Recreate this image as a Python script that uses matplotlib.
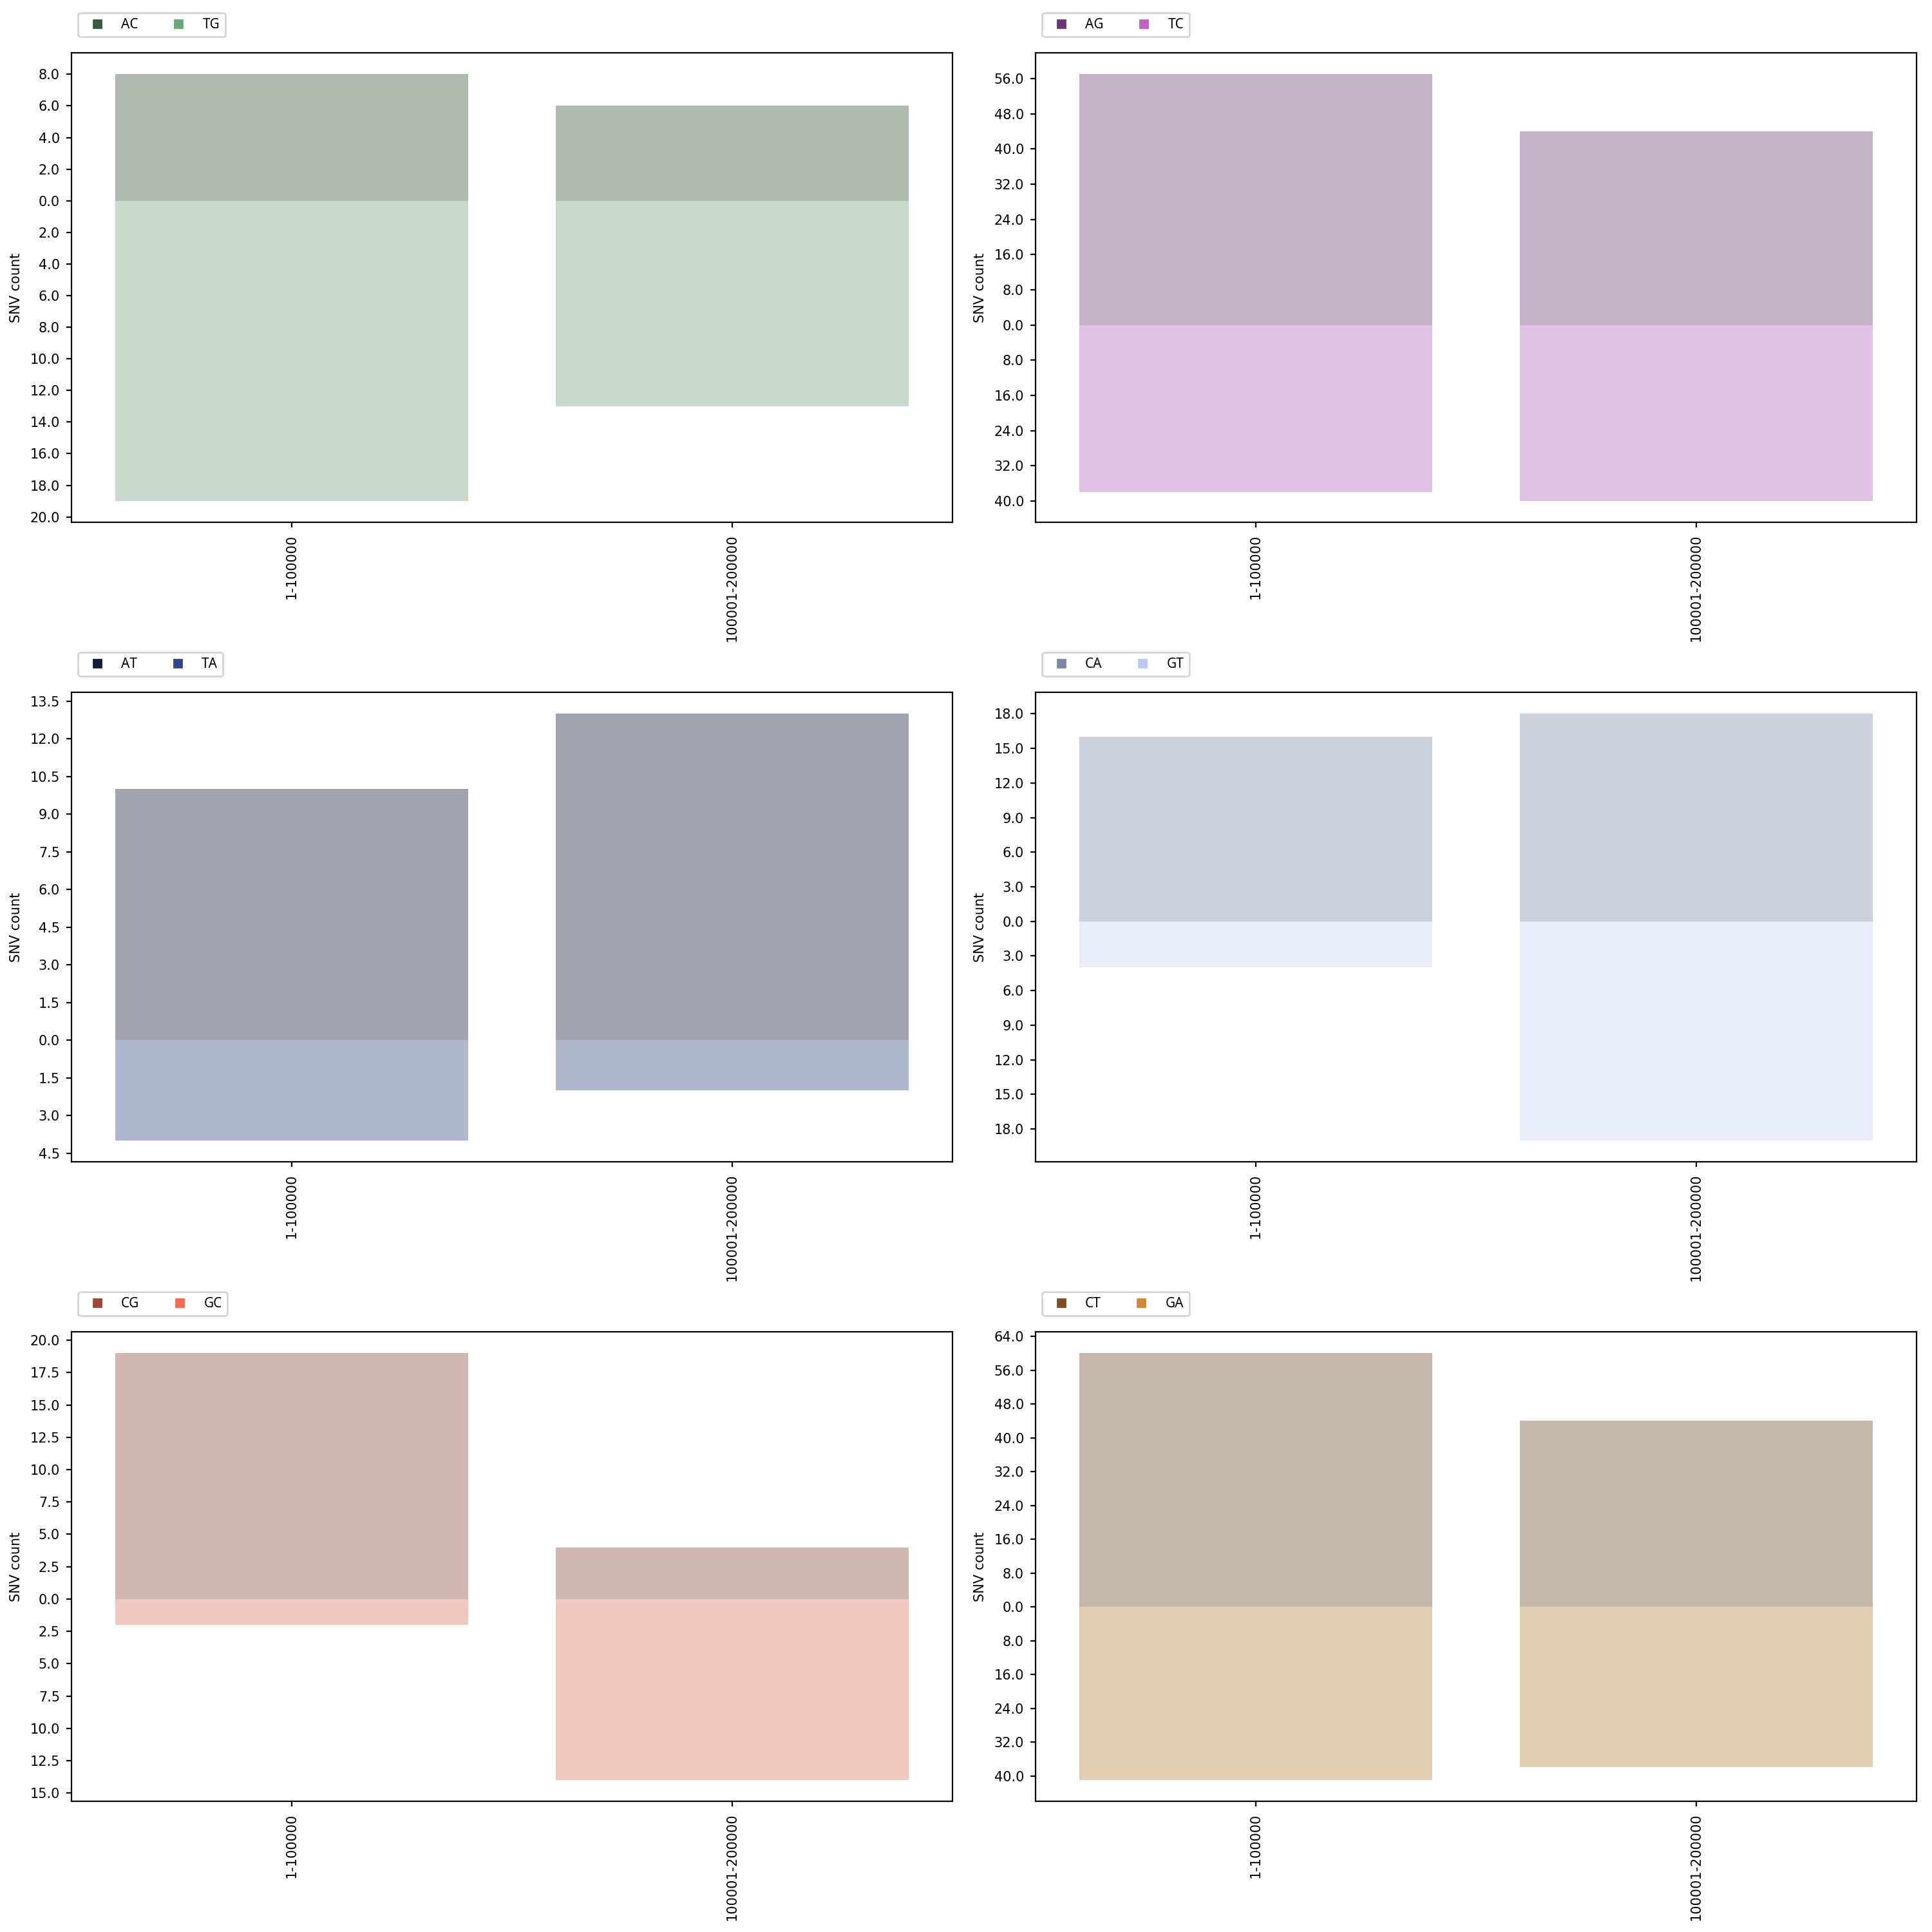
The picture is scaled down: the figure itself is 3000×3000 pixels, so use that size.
import matplotlib
matplotlib.use('Agg')
from matplotlib import pyplot as plt
from matplotlib.lines import Line2D
from matplotlib.ticker import MultipleLocator, FuncFormatter
import numpy as np

# bins along the sequence
bins = ['1-100000', '100001-200000']

# substitution pairs: (upper, lower)
pairs = [('AC', 'TG'), ('AG', 'TC'), ('AT', 'TA'),
         ('CA', 'GT'), ('CG', 'GC'), ('CT', 'GA')]

# SNV counts per bin
ac = [8, 6]
tg = [19, 13]
ag = [57, 44]
tc = [38, 40]
at = [10, 13]
ta = [4, 2]
ca = [16, 18]
gt = [4, 19]
cg = [19, 4]
gc = [2, 14]
ct = [60, 44]
ga = [41, 38]

upper_counts = [ac, ag, at, ca, cg, ct]
lower_counts = [tg, tc, ta, gt, gc, ga]

# legend marker colours
upper_colors = ['#3a5a42', '#6c3579', '#141c3c', '#7c88a8', '#9c4a38', '#7c5024']
lower_colors = ['#6aa878', '#c060c8', '#2e468c', '#b8c8f8', '#ee6c50', '#d08a34']

# bar fills (faded versions)
upper_fill = ['#b0b9b0', '#c3b1c5', '#a1a4ae', '#cdd1dc', '#d1b6b0', '#c4b7a7']
lower_fill = ['#c7d9cb', '#e1c2e5', '#b0b6cc', '#e8ecf9', '#efc8c0', '#e2cdb2']

tick_steps = [2, 8, 1.5, 3, 2.5, 8]


def main():
    fig = plt.figure(figsize=(15, 15), dpi=200)

    lefts = [0.037, 0.536]
    bottoms = [0.7296, 0.3986, 0.0676]
    w, h = 0.456, 0.243

    x = np.arange(len(bins))
    for i, (up_name, low_name) in enumerate(pairs):
        ax = fig.add_axes([lefts[i % 2], bottoms[i // 2], w, h])
        up = np.array(upper_counts[i])
        low = np.array(lower_counts[i])

        ax.bar(x, up, width=0.8, color=upper_fill[i], linewidth=0)
        ax.bar(x, -low, width=0.8, color=lower_fill[i], linewidth=0)

        ax.set_xlim(-0.5, len(bins) - 0.5)
        ax.set_xticks(x)
        ax.set_xticklabels(bins, rotation=90, fontsize=7.5, family='DejaVu Sans')

        ax.yaxis.set_major_locator(MultipleLocator(tick_steps[i]))
        ax.yaxis.set_major_formatter(FuncFormatter(lambda v, p: '%.1f' % abs(v)))
        ax.tick_params(axis='both', labelsize=7.5, length=3, width=0.8)
        ax.set_ylabel('SNV count', fontsize=7.5, family='Liberation Sans Narrow')

        handles = [Line2D([], [], marker='s', linestyle='none', color=upper_colors[i], markersize=4),
                   Line2D([], [], marker='s', linestyle='none', color=lower_colors[i], markersize=4)]
        ax.legend(handles, [up_name, low_name], loc='lower left', bbox_to_anchor=(0.0, 1.02),
                  ncol=2, prop={'family': 'Noto Sans', 'size': 7.5},
                  handletextpad=0.8, columnspacing=2.0, borderaxespad=0.5)

    fig.savefig('out.png', dpi=200)


if __name__ == "__main__":
    main()
